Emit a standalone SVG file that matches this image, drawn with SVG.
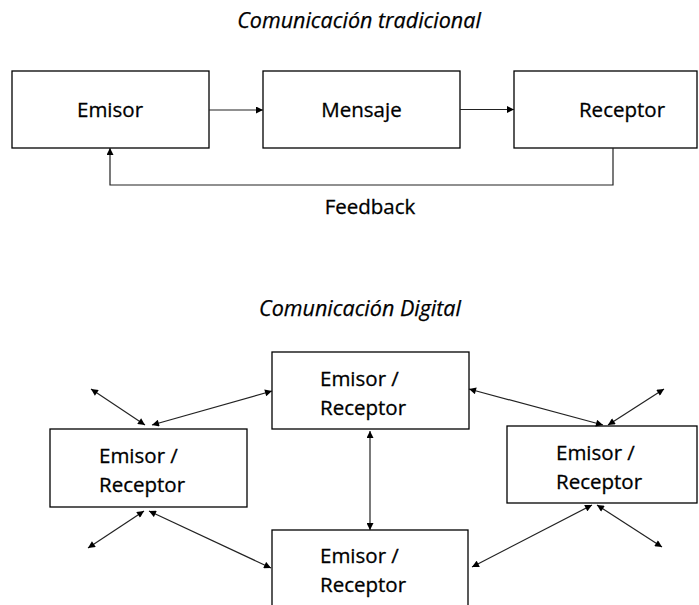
<svg xmlns="http://www.w3.org/2000/svg" width="699" height="605" viewBox="0 0 699 605">
  <style>
    .box { fill: #ffffff; stroke: #000000; stroke-width: 1.3; }
    .lbl { font-family: "Open Sans", "Liberation Sans", sans-serif; font-size: 20.5px; fill: #000000; stroke: #000000; stroke-width: 0.3; }
    .title { font-family: "Open Sans", "Liberation Sans", sans-serif; font-size: 21.5px; font-style: italic; fill: #000000; stroke: #000000; stroke-width: 0.25; }
    .ln { fill: none; stroke: #222222; stroke-width: 1.2; }
  </style>
  <defs>
    <marker id="ah" viewBox="0 0 10 10" refX="10" refY="5" markerWidth="8" markerHeight="7" markerUnits="userSpaceOnUse" orient="auto-start-reverse">
      <path d="M0,0 L10,5 L0,10 z" fill="#000000"/>
    </marker>
  </defs>
  <rect width="699" height="605" fill="#ffffff"/>

  <!-- Traditional communication -->
  <text class="title" x="359" y="28" text-anchor="middle">Comunicación tradicional</text>

  <g id="emisor">
    <rect class="box" x="12" y="71" width="197" height="77"/>
    <text class="lbl" x="110" y="117" text-anchor="middle">Emisor</text>
  </g>
  <g id="mensaje">
    <rect class="box" x="263" y="71" width="197" height="77"/>
    <text class="lbl" x="361.5" y="117" text-anchor="middle">Mensaje</text>
  </g>
  <g id="receptor">
    <rect class="box" x="514" y="71" width="183" height="77"/>
    <text class="lbl" x="622" y="117" text-anchor="middle">Receptor</text>
  </g>
  <g id="feedback-label">
    <text class="lbl" x="370" y="214" text-anchor="middle">Feedback</text>
  </g>

  <g id="connectors-top">
    <line class="ln" x1="209" y1="110" x2="263" y2="110" marker-end="url(#ah)"/>
    <line class="ln" x1="460" y1="109.5" x2="514" y2="109.5" marker-end="url(#ah)"/>
    <polyline class="ln" points="613,148 613,185 110,185 110,148" marker-end="url(#ah)"/>
  </g>

  <!-- Digital communication -->
  <text class="title" x="360" y="316" text-anchor="middle">Comunicación Digital</text>

  <g id="nodo-superior">
    <rect class="box" x="272" y="352" width="197" height="77"/>
    <text class="lbl" x="320" y="386">Emisor /</text>
    <text class="lbl" x="320" y="415">Receptor</text>
  </g>
  <g id="nodo-izquierdo">
    <rect class="box" x="50" y="429" width="197" height="78"/>
    <text class="lbl" x="99" y="463">Emisor /</text>
    <text class="lbl" x="99" y="492">Receptor</text>
  </g>
  <g id="nodo-derecho">
    <rect class="box" x="507" y="426" width="190" height="77"/>
    <text class="lbl" x="556" y="460">Emisor /</text>
    <text class="lbl" x="556" y="489">Receptor</text>
  </g>
  <g id="nodo-inferior">
    <rect class="box" x="272" y="530" width="196" height="80"/>
    <text class="lbl" x="320" y="563">Emisor /</text>
    <text class="lbl" x="320" y="592">Receptor</text>
  </g>

  <g id="connectors-digital">
    <line class="ln" x1="91" y1="389" x2="145" y2="425" marker-start="url(#ah)" marker-end="url(#ah)"/>
    <line class="ln" x1="152" y1="425" x2="272" y2="391" marker-start="url(#ah)" marker-end="url(#ah)"/>
    <line class="ln" x1="144" y1="511" x2="88" y2="548" marker-start="url(#ah)" marker-end="url(#ah)"/>
    <line class="ln" x1="149" y1="511" x2="271" y2="568" marker-start="url(#ah)" marker-end="url(#ah)"/>
    <line class="ln" x1="370" y1="431" x2="370" y2="530" marker-start="url(#ah)" marker-end="url(#ah)"/>
    <line class="ln" x1="469" y1="389" x2="603" y2="425" marker-start="url(#ah)" marker-end="url(#ah)"/>
    <line class="ln" x1="608" y1="425" x2="664" y2="389" marker-start="url(#ah)" marker-end="url(#ah)"/>
    <line class="ln" x1="592" y1="505" x2="472" y2="567" marker-start="url(#ah)" marker-end="url(#ah)"/>
    <line class="ln" x1="597" y1="505" x2="662" y2="547" marker-start="url(#ah)" marker-end="url(#ah)"/>
  </g>
</svg>
